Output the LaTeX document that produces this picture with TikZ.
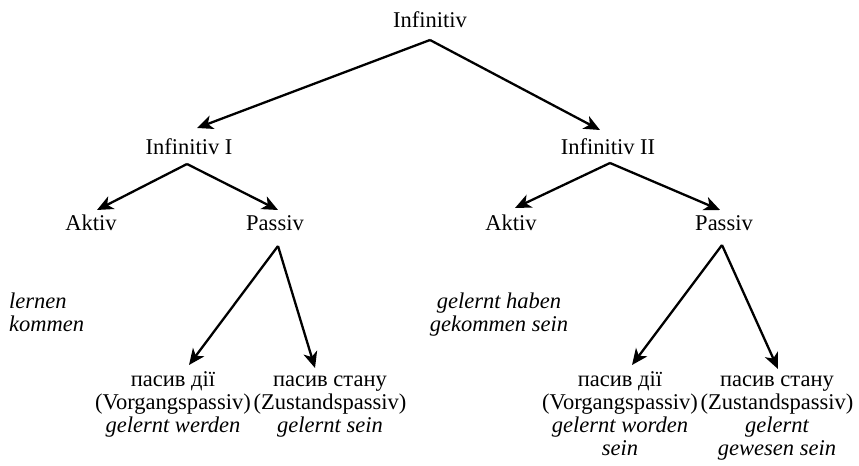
\documentclass[tikz,border=0pt]{standalone}
\usepackage{fontspec}
\setmainfont{Liberation Serif}[ItalicFont={Liberation Serif Italic},BoldFont={Liberation Serif Bold}]
\usetikzlibrary{arrows.meta,calc}
\tikzset{
  lbl/.style={anchor=base,inner sep=0pt,font=\fontsize{22.6}{23}\selectfont},
  arr/.style={line width=2.3bp,-{Stealth[length=16bp,width=14bp,inset=4.5bp]}},
}
\newcommand{\leafbox}[1]{\begin{tabular}[t]{@{}c@{}}#1\end{tabular}}
\begin{document}
\begin{tikzpicture}[x=1bp,y=-1bp]
\useasboundingbox (0,0) rectangle (859,466);
\node[lbl] (inf) at (430,28) {Infinitiv};
\node[lbl] (inf1) at (189,155) {Infinitiv I};
\node[lbl] (inf2) at (608,155) {Infinitiv II};
\node[lbl] (ak1) at (91,231) {Aktiv};
\node[lbl] (pa1) at (275,231) {Passiv};
\node[lbl] (ak2) at (511,231) {Aktiv};
\node[lbl] (pa2) at (724,231) {Passiv};
\node[lbl,anchor=base west] (ex1) at (9,309) {\begin{tabular}[t]{@{}l@{}}\itshape lernen\\\itshape kommen\end{tabular}};
\node[lbl] (ex2) at (499,309) {\leafbox{\itshape gelernt haben\\\itshape gekommen sein}};
\node[lbl] (l1) at (173,387) {\leafbox{пасив дії\\(Vorgangspassiv)\\\itshape gelernt werden}};
\node[lbl] (l2) at (330,387) {\leafbox{пасив стану\\(Zustandspassiv)\\\itshape gelernt sein}};
\node[lbl] (r1) at (620,387) {\leafbox{пасив дії\\(Vorgangspassiv)\\\itshape gelernt worden\\\itshape sein}};
\node[lbl] (r2) at (777,387) {\leafbox{пасив стану\\(Zustandspassiv)\\\itshape gelernt\\\itshape gewesen sein}};
\draw[arr] ($(inf.base)+(0,12)$) -- ($(inf1.base)+(8,-27)$);
\draw[arr] ($(inf.base)+(0,12)$) -- ($(inf2.base)+(-8,-25)$);
\draw[arr] ($(inf1.base)+(-2,9)$) -- ($(ak1.base)+(6,-21)$);
\draw[arr] ($(inf1.base)+(-2,9)$) -- ($(pa1.base)+(3,-21)$);
\draw[arr] ($(inf2.base)+(2,8)$) -- ($(ak2.base)+(4,-23)$);
\draw[arr] ($(inf2.base)+(2,8)$) -- ($(pa2.base)+(-4,-21)$);
\draw[arr] ($(pa1.base)+(3,15)$) -- ($(l1.base)+(16,-22)$);
\draw[arr] ($(pa1.base)+(3,15)$) -- ($(l2.base)+(-15,-19)$);
\draw[arr] ($(pa2.base)+(-2,14)$) -- ($(r1.base)+(12,-22)$);
\draw[arr] ($(pa2.base)+(-2,14)$) -- ($(r2.base)+(1,-18)$);
\end{tikzpicture}
\end{document}
